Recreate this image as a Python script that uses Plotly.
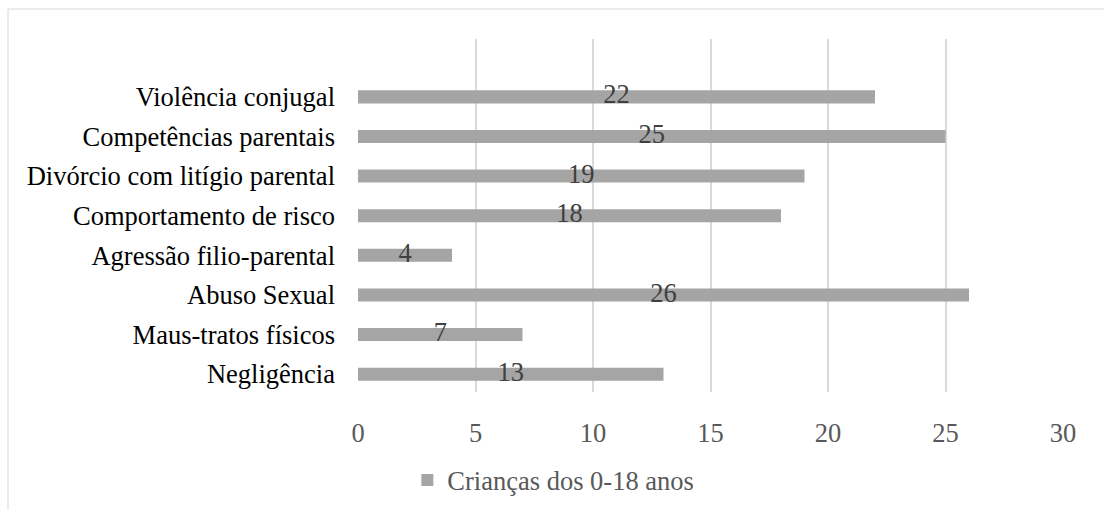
import plotly.graph_objects as go

categories = ["Negligência", "Maus-tratos físicos", "Abuso Sexual", "Agressão filio-parental",
              "Comportamento de risco", "Divórcio com litígio parental", "Competências parentais",
              "Violência conjugal"]
values = [13, 7, 26, 4, 18, 19, 25, 22]
series_name = "Crianças dos 0-18 anos"
x_ticks = [0, 5, 10, 15, 20, 25, 30]

FONT = "Liberation Serif"
BAR = "#A5A5A5"
GRID = "#D9D9D9"

fig = go.Figure()
fig.add_trace(go.Bar(
    y=categories, x=values, orientation="h", name=series_name,
    marker=dict(color=BAR, line=dict(width=0)), width=0.33,
    showlegend=True, hoverinfo="x+y",
))
fig.add_trace(go.Scatter(
    y=categories, x=[v / 2 for v in values], mode="text",
    text=[str(v) for v in values], textposition="middle center",
    textfont=dict(family=FONT, size=26.5, color="#404040"),
    showlegend=False, hoverinfo="skip", cliponaxis=False,
))

fig.update_layout(
    width=1104, height=510,
    margin=dict(l=358, r=41, t=39, b=118, autoexpand=False),
    paper_bgcolor="white", plot_bgcolor="white",
    font=dict(family=FONT, size=26.5, color="#595959"),
    bargap=0.67,
    xaxis=dict(range=[0, 30], tickvals=x_ticks, showgrid=True, gridcolor=GRID, gridwidth=1.5,
               zeroline=False, showline=False, ticks="", automargin=False,
               tickfont=dict(family=FONT, size=26.5, color="#595959"),
               ticklabelstandoff=22, fixedrange=True),
    yaxis=dict(categoryorder="array", categoryarray=categories, range=[-0.45, 8.46],
               showgrid=False, zeroline=False, showline=False, ticks="", automargin=False,
               tickfont=dict(family=FONT, size=26.5, color="#000000"),
               ticklabelstandoff=22, fixedrange=True),
    legend=dict(orientation="h", x=0.07, xanchor="left", y=-0.25, yanchor="middle",
                font=dict(family=FONT, size=26.5, color="#595959"),
                bgcolor="rgba(0,0,0,0)", itemwidth=30),
    shapes=[dict(type="rect", xref="paper", yref="paper",
                 x0=(8 - 358) / 705, x1=1.3, y0=-0.6, y1=1 + 30 / 353,
                 line=dict(color=GRID, width=1), fillcolor="rgba(0,0,0,0)", layer="below")],
)

fig.write_html("out.html")
